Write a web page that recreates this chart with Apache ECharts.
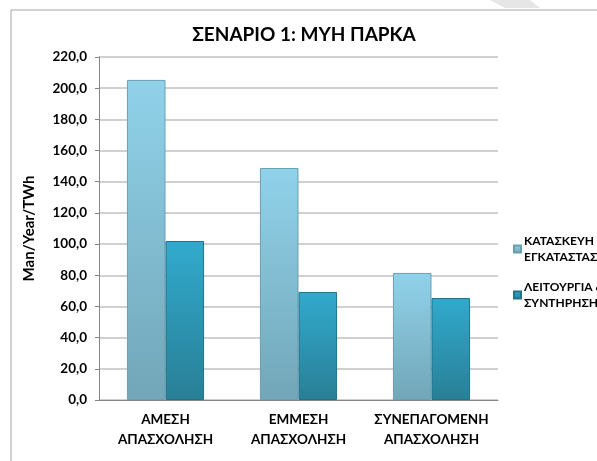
<!DOCTYPE html>
<html><head><meta charset="utf-8">
<script src="https://cdn.jsdelivr.net/npm/echarts@6/dist/echarts.min.js"></script>
<style>html,body{margin:0;padding:0;background:#fff}#c{width:597px;height:461px}</style>
</head><body><div id="c"></div>
<script>
const categories = ['ΑΜΕΣΗ\nΑΠΑΣΧΟΛΗΣΗ', 'ΕΜΜΕΣΗ\nΑΠΑΣΧΟΛΗΣΗ', 'ΣΥΝΕΠΑΓΟΜΕΝΗ\nΑΠΑΣΧΟΛΗΣΗ'];
const seriesNames = ['ΚΑΤΑΣΚΕΥΗ &\nΕΓΚΑΤΑΣΤΑΣΗ', 'ΛΕΙΤΟΥΡΓΙΑ &\nΣΥΝΤΗΡΗΣΗ'];
const construction = [205.3, 148.8, 81.5];
const operation = [102.0, 69.3, 65.4];
const titleText = 'ΣΕΝΑΡΙΟ 1: ΜΥΗ ΠΑΡΚΑ';
const yTitle = 'Man/Year/TWh';

const font = 'Lato, "Open Sans", sans-serif';
const chart = echarts.init(document.getElementById('c'));
function grad(top, bottom){
  return new echarts.graphic.LinearGradient(0,0,0,1,[{offset:0,color:top},{offset:1,color:bottom}]);
}
chart.setOption({
  animation:false,
  graphic:[
    {type:'polygon', shape:{points:[[490,0],[530,0],[540,8],[505,8]]}, style:{fill:'#e6e6e6'}},
    {type:'line', shape:{x1:11,y1:10,x2:597,y2:10}, style:{stroke:'#a6a6a6',lineWidth:1}},
    {type:'line', shape:{x1:11,y1:10,x2:11,y2:461}, style:{stroke:'#a6a6a6',lineWidth:1}}
  ],
  title:{text:titleText,left:299,textAlign:'center',top:20,
    textStyle:{fontFamily:font,fontWeight:'bold',fontSize:19,color:'#000'}},
  legend:{orient:'vertical',left:513,top:233,padding:0,itemWidth:7,itemHeight:7,itemGap:14,
    icon:'rect',
    textStyle:{fontFamily:font,fontWeight:'bold',fontSize:12,color:'#000',lineHeight:16,padding:[0,0,0,-2]},
    data:seriesNames},
  grid:{left:99,right:99,top:57,bottom:61,containLabel:false},
  xAxis:{type:'category',data:categories,
    axisLine:{lineStyle:{color:'#868686',width:1}},
    axisTick:{show:false},
    axisLabel:{fontFamily:font,fontWeight:'bold',fontSize:13.5,color:'#000',lineHeight:20,margin:10,interval:0}},
  yAxis:{type:'value',min:0,max:220,interval:20,
    name:yTitle,nameLocation:'middle',nameGap:62,nameRotate:90,
    nameTextStyle:{fontFamily:font,fontWeight:'bold',fontSize:15,color:'#000'},
    axisLine:{show:true,lineStyle:{color:'#868686'}},
    axisTick:{show:true,length:4,lineStyle:{color:'#868686'}},
    splitLine:{lineStyle:{color:'#c0c0c0',width:1.5}},
    axisLabel:{fontFamily:font,fontWeight:'bold',fontSize:13.5,color:'#000',margin:12,
      formatter:v=>v.toFixed(1).replace('.',',')}},
  series:[
    {name:seriesNames[0],type:'bar',data:construction,barGap:'0%',barCategoryGap:'42%',
      itemStyle:{color:grad('#90d2ea','#72a6b8'),borderColor:'#6b9fb0',borderWidth:1}},
    {name:seriesNames[1],type:'bar',data:operation,
      itemStyle:{color:grad('#31aacd','#297f96'),borderColor:'#23718a',borderWidth:1}}
  ]
});
</script></body></html>
